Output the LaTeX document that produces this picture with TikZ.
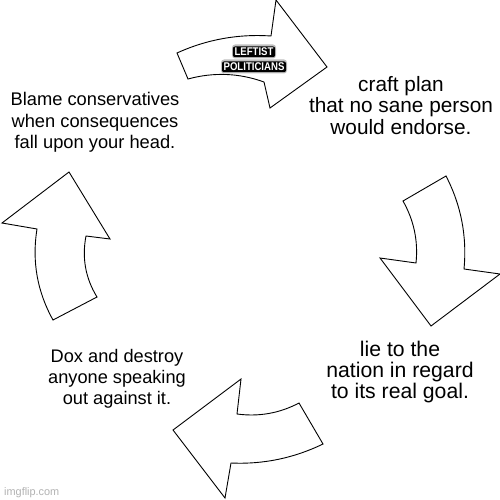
\documentclass[tikz,border=0pt]{standalone}
\usepackage{fontspec}
\setmainfont{Liberation Sans}
\definecolor{wmark}{gray}{0.70}
\begin{document}
\begin{tikzpicture}[x=1pt,y=-1pt,
  arrowshape/.style={draw=black, fill=white, line width=0.9pt, line join=miter},
  caption/.style={anchor=base, inner sep=0pt},
  capA/.style={caption, font=\fontsize{18.3}{21}\selectfont},
  capB/.style={caption, font=\fontsize{20.8}{21}\selectfont},
  capC/.style={caption, font=\fontsize{21.2}{21}\selectfont},
  capD/.style={caption, font=\fontsize{18.2}{21}\selectfont},
  tag/.style={font=\fontsize{10}{12}\selectfont\bfseries, anchor=base, text=white,
    fill=black, rounded corners=2pt, inner xsep=1.6pt, inner ysep=1.4pt},
  halo/.style={fill=black, rounded corners=3pt},
  watermark/.style={font=\fontsize{10.9}{13}\selectfont, anchor=base west, inner sep=0pt, text=wmark}]
\fill[white] (0,0) rectangle (500,500);
\useasboundingbox (0,0) rectangle (500,500);

% top arrow (pointing right)
\draw[arrowshape] (177,53) .. controls (206.9,39.4) and (238.3,33.8) .. (271,36) -- (276,0) -- (327,67)
  -- (270,108) -- (264,82) .. controls (239.1,73) and (213.7,72) .. (188,79) -- cycle;
% right arrow (pointing down)
\draw[arrowshape] (403,201) -- (446,176) .. controls (461.1,205.2) and (467.1,236.2) .. (464,269)
  -- (500,274) -- (431,326) -- (380,258) -- (416,263) .. controls (418.3,240.9) and (413.9,220.3) .. cycle;
% bottom arrow (pointing left)
\draw[arrowshape] (299,403) -- (323,444) .. controls (293.9,458.1) and (263.3,464.5) .. (231,463)
  -- (225,498) -- (173,430) -- (241,379) -- (237,414) .. controls (258.9,416.9) and (279.5,413.3) .. cycle;
% left arrow (pointing up)
\draw[arrowshape] (53,320) -- (97,297) .. controls (85.4,278.1) and (81.8,257.7) .. (86,236)
  -- (110,239) -- (69,172) -- (2,223) -- (37,229) .. controls (31.8,261.2) and (37.2,291.6) .. cycle;

% texts
\node[capA] (b1) at (95,105.7) {Blame conservatives};
\node[capA] (b2) at (95,127.3) {when consequences};
\node[capA] (b3) at (95,148.5) {fall upon your head.};

\node[capB] (c1) at (401,91.5) {craft plan};
\node[capB] (c2) at (401,112.8) {that no sane person};
\node[capB] (c3) at (401,134) {would endorse.};

\node[capC] (l1) at (400,356) {lie to the};
\node[capC] (l2) at (400,377.3) {nation in regard};
\node[capC] (l3) at (400,398.5) {to its real goal.};

\node[capD] (d1) at (117,362.3) {Dox and destroy};
\node[capD] (d2) at (117,383.5) {anyone speaking};
\node[capD] (d3) at (117,404.5) {out against it.};

% soft halos behind the label
\fill[halo, opacity=0.25] (232,44.5) rectangle (276,58.5);
\fill[halo, opacity=0.25] (221,59.5) rectangle (287,73.5);
\node[tag] (lt1) at (254,55.7) {\scalebox{0.96}[1.12]{LEFTIST}};
\node[tag] (lt2) at (254,70.7) {\scalebox{0.96}[1.12]{POLITICIANS}};

\node[watermark] (wm) at (4,495) {imgflip.com};
\end{tikzpicture}
\end{document}
